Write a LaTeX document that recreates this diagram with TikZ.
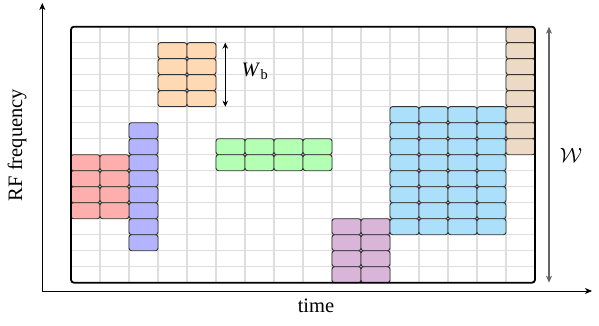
\documentclass[tikz,border=0pt]{standalone}
\usepackage{fontspec}
\setmainfont{Liberation Serif}
\usetikzlibrary{arrows.meta}
\definecolor{cOrange}{RGB}{255,217,179}
\definecolor{cLav}{RGB}{179,179,255}
\definecolor{cPink}{RGB}{255,174,174}
\definecolor{cGreen}{RGB}{179,255,179}
\definecolor{cMauve}{RGB}{217,181,217}
\definecolor{cBlue}{RGB}{172,224,250}
\definecolor{cTan}{RGB}{236,218,198}
\definecolor{gridc}{RGB}{222,222,222}
\newcommand\cellblock[5]{%
  \foreach \cc in {#2,...,#3}{%
    \foreach \rr in {#4,...,#5}{%
      \node[cellbox, fill=#1] (#1-\cc-\rr) at ({71+\cc*29},{26.7+\rr*16}) {};
    }%
  }%
}
\begin{document}
\begin{tikzpicture}[x=1pt,y=-1pt,
  every node/.style={font=\fontsize{20.5}{24}\selectfont},
  cellbox/.style={draw=black!80, line width=0.9pt, rounded corners=2.5pt,
    inner sep=0pt, outer sep=0pt, minimum width=29pt, minimum height=16pt,
    anchor=north west},
  framebox/.style={draw=black, line width=1.8pt, rounded corners=3pt,
    inner sep=0pt, outer sep=0pt, minimum width=464pt, minimum height=256pt,
    anchor=north west},
  gridline/.style={draw=gridc, line width=1.3pt},
  axis/.style={draw=black, line width=0.9pt, -{Stealth[length=7pt,width=6pt,inset=2pt]}},
  bigarrow/.style={draw=black!60, line width=1.1pt,
    {Stealth[length=7pt,width=6pt,inset=2pt]}-{Stealth[length=7pt,width=6pt,inset=2pt]}},
  smallarrow/.style={draw=black, line width=0.9pt,
    {Stealth[length=6pt,width=5.5pt,inset=2pt]}-{Stealth[length=6pt,width=5.5pt,inset=2pt]}}
]
\useasboundingbox (0,0) rectangle (599,326);
% grid
\foreach \i in {1,...,15}{
  \draw[gridline] ({71+\i*29},26.7) -- ({71+\i*29},282.7);
  \draw[gridline] (71,{26.7+\i*16}) -- (535,{26.7+\i*16});
}
% blocks
\cellblock{cOrange}{3}{4}{1}{4}
\cellblock{cLav}{2}{2}{6}{13}
\cellblock{cPink}{0}{1}{8}{11}
\cellblock{cGreen}{5}{8}{7}{8}
\cellblock{cMauve}{9}{10}{12}{15}
\cellblock{cBlue}{11}{14}{5}{12}
\cellblock{cTan}{15}{15}{0}{7}
% frame
\node[framebox] (frame) at (71,26.7) {};
% axes
\coordinate (O) at (42.3,291);
\coordinate (ytip) at (42.3,3);
\coordinate (xtip) at (592,291);
\draw[axis] (O) -- (ytip);
\draw[axis] (O) -- (xtip);
\node[rotate=90] (ylab) at (17,145) {RF frequency};
\node (xlab) at (316,306) {time};
% W arrow
\coordinate (wtop) at (549,26.7);
\coordinate (wbot) at (549,282.7);
\draw[bigarrow] (wtop) -- (wbot);
\node (wlab) at (571,155) {$\mathcal{W}$};
% Wb arrow
\coordinate (wbtop) at (225.3,42.7);
\coordinate (wbbot) at (225.3,106.7);
\draw[smallarrow] (wbtop) -- (wbbot);
\node (wblab) at (255,71) {\textit{W}\kern0.5pt$_{\mathrm{b}}$};
\end{tikzpicture}
\end{document}
